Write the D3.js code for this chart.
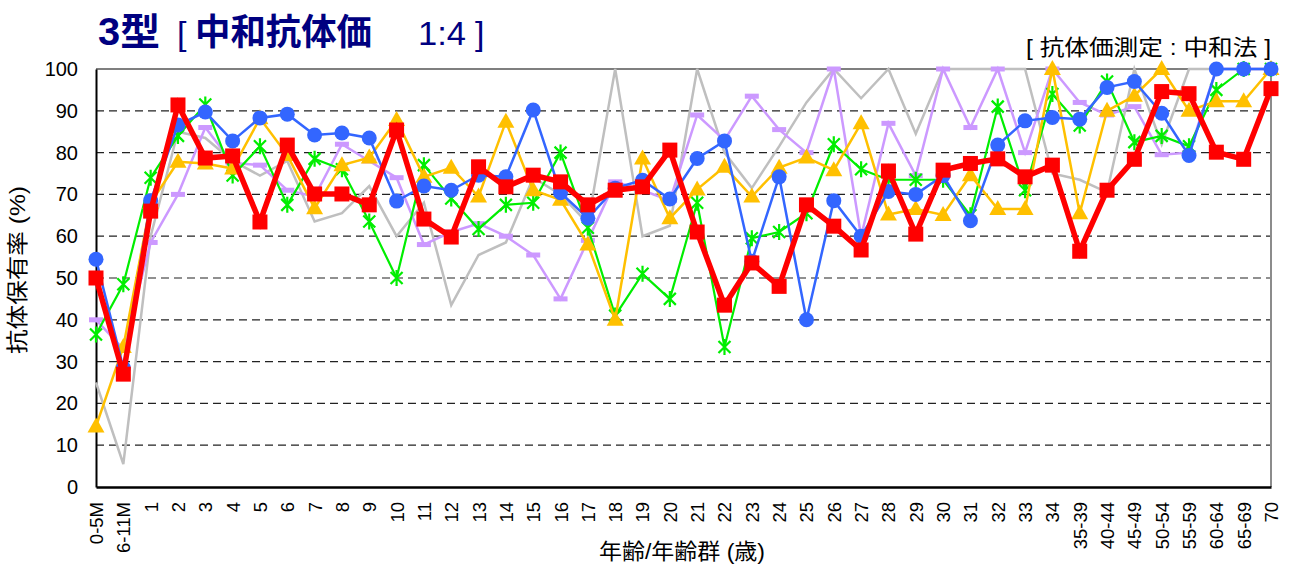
<!DOCTYPE html>
<html><head><meta charset="utf-8">
<script src="https://cdn.jsdelivr.net/npm/d3@7"></script>
<style>
body{margin:0;background:#fff;}
text{font-family:"Liberation Sans",Arial,"Noto Sans CJK JP",sans-serif;}
.cjk{font-family:"Liberation Sans","Noto Sans CJK JP",sans-serif;}
</style></head>
<body><svg id="c" width="1290" height="567"></svg>
<script>
const categories = ["0-5M","6-11M","1","2","3","4","5","6","7","8","9","10","11","12","13","14","15","16","17","18","19","20","21","22","23","24","25","26","27","28","29","30","31","32","33","34","35-39","40-44","45-49","50-54","55-59","60-64","65-69","70"];
const yTicks = [0,10,20,30,40,50,60,70,80,90,100];

const grayValues   = [25,5.5,60,85,83.5,78,74.5,78,63.5,65.5,72,60,68,43.5,55.5,58.5,74,70,63,100,60,62.5,100,80,71.5,81.5,92,100,93,100,84.5,100,100,100,100,75,73.5,70.5,100,82,100,100,100,100];
const purpleValues = [40,33,58.5,70,86,77.5,77,71,69.5,82,78,74,58,61,63,60,55.5,45,59,73,71,68.5,89,83,93.5,85.5,80,100,60,87,74.5,100,86,100,80,100,92,89,91,79.5,80,100,100,100];
const greenValues  = [36.5,48.5,74,84,91.5,74.5,81.5,67.5,78.5,76,63.5,50,77,69,61.7,67.5,68,80,62,41,51,45,68,33.5,59.5,61,65.5,82,76,73.5,73.5,73.5,65,91,71,94,86.5,97,82.5,84,81.5,95,100,100];
const yellowValues = [14.5,33.5,68,77.8,77.4,76.2,88.2,79.4,66.7,77,78.8,87.8,74.2,76.4,69.5,87.4,71,68.7,58,40,78.6,64.3,71.2,76.6,69.5,76.4,78.8,75.8,87,65.2,66.5,65.1,74.6,66.5,66.5,100,65.5,90,93.6,100,90,92.3,92.3,100];
const blueValues   = [54.5,28.5,68.5,86.6,89.7,82.8,88.3,89.2,84.2,84.7,83.5,68.4,72,71,74.6,74.2,90.2,70.4,64.3,71.5,73.4,68.9,78.6,82.8,54,74.2,40,68.5,60,70.7,70,74.5,63.7,81.8,87.6,88.4,88,95.6,97,89.4,79.3,100,100,100];
const redValues    = [50,27,66,91.4,78.7,79.2,63.4,81.8,70.1,70.1,67.5,85.4,64.1,59.8,76.6,71.8,74.6,73,67.5,71,71.8,80.6,61,43.5,53.6,48,67.5,62.4,56.7,75.6,60.5,75.8,77.4,78.5,74.2,77,56.4,71,78.4,94.6,94.1,80.1,78.4,95.3];

const svg = d3.select("#c");
const L=96, R=1271, T=69, B=487;
const x = d3.scalePoint().domain(categories).range([L,R]).padding(0);
const y = d3.scaleLinear().domain([0,100]).range([B,T]);

// gridlines
svg.append("g").selectAll("line").data(yTicks.filter(d=>d>0&&d<100)).join("line")
  .attr("x1",L).attr("x2",R).attr("y1",d=>y(d)).attr("y2",d=>y(d))
  .attr("stroke","#222").attr("stroke-width",1.2).attr("stroke-dasharray","8,5");
// frame top/right
svg.append("line").attr("x1",L).attr("x2",R).attr("y1",y(100)).attr("y2",y(100)).attr("stroke","#7f7f7f").attr("stroke-width",2);
svg.append("line").attr("x1",R).attr("x2",R).attr("y1",T).attr("y2",B).attr("stroke","#8c8c8c").attr("stroke-width",2);

// axes
const yAxis = svg.append("g").attr("transform",`translate(${L},0)`)
  .call(d3.axisLeft(y).tickValues(yTicks).tickSize(0).tickPadding(18));
yAxis.select(".domain").attr("stroke","#000").attr("stroke-width",2);
yAxis.selectAll("text").attr("font-size",20).attr("fill","#000");

const xAxis = svg.append("g").attr("transform",`translate(0,${B})`)
  .call(d3.axisBottom(x).tickSize(0));
xAxis.select(".domain").attr("stroke","#000").attr("stroke-width",2.5);
xAxis.selectAll("text").attr("font-size",18.5).attr("fill","#000")
  .attr("transform","rotate(-90)").attr("text-anchor","end")
  .attr("x",-15).attr("y",0).attr("dy","0.35em");

// series
const series = [
  {v:grayValues,   c:"#bfbfbf", w:2.5, m:"none"},
  {v:purpleValues, c:"#cc99ff", w:2.5, m:"dash"},
  {v:greenValues,  c:"#00ee00", w:2.2, m:"star"},
  {v:yellowValues, c:"#ffc000", w:2.5, m:"tri"},
  {v:blueValues,   c:"#3366ff", w:2.5, m:"circle"},
  {v:redValues,    c:"#ff0000", w:5.5, m:"square"}
];
const line = d3.line().x((d,i)=>x(categories[i])).y(d=>y(d));
series.forEach(s=>{
  const g = svg.append("g");
  g.append("path").datum(s.v).attr("d",line).attr("fill","none")
    .attr("stroke",s.c).attr("stroke-width",s.w).attr("stroke-linejoin","miter");
  const pts = g.selectAll("g.pt").data(s.v).join("g")
    .attr("transform",(d,i)=>`translate(${x(categories[i])},${y(d)})`);
  if(s.m==="circle") pts.append("circle").attr("r",7.5).attr("fill",s.c);
  if(s.m==="square") pts.append("rect").attr("x",-7.5).attr("y",-7.5).attr("width",15).attr("height",15).attr("fill",s.c);
  if(s.m==="tri") pts.append("path").attr("d","M0,-9 L8.5,6 L-8.5,6 Z").attr("fill",s.c);
  if(s.m==="dash") pts.append("rect").attr("x",-7).attr("y",-2.5).attr("width",14).attr("height",5).attr("fill",s.c);
  if(s.m==="star") pts.append("path").attr("d","M-6,-6 L6,6 M-6,6 L6,-6 M0,-8 L0,8").attr("stroke",s.c).attr("stroke-width",2.2);
});

// titles
const navy = "#000080";
svg.append("text").attr("class","cjk").attr("x",98).attr("y",45).attr("fill",navy)
  .attr("font-size",38).attr("font-weight","bold").attr("textLength",62).attr("lengthAdjust","spacingAndGlyphs").text("3型");
svg.append("text").attr("class","cjk").attr("x",177).attr("y",45).attr("fill",navy)
  .attr("font-size",34).text("[");
svg.append("text").attr("class","cjk").attr("x",195).attr("y",45).attr("fill",navy)
  .attr("font-size",36).attr("font-weight","bold").attr("textLength",177).attr("lengthAdjust","spacingAndGlyphs").text("中和抗体価");
svg.append("text").attr("class","cjk").attr("x",418).attr("y",45).attr("fill",navy)
  .attr("font-size",33).attr("textLength",48).attr("lengthAdjust","spacingAndGlyphs").text("1:4");
svg.append("text").attr("class","cjk").attr("x",475).attr("y",45).attr("fill",navy)
  .attr("font-size",34).text("]");

svg.append("text").attr("class","cjk").attr("x",1271).attr("y",55).attr("text-anchor","end")
  .attr("font-size",22).attr("fill","#000").attr("textLength",245).attr("lengthAdjust","spacingAndGlyphs")
  .text("[ 抗体価測定 : 中和法 ]");

svg.append("text").attr("class","cjk").attr("transform","translate(25,270) rotate(-90)")
  .attr("text-anchor","middle").attr("font-size",22).attr("fill","#000")
  .attr("textLength",168).attr("lengthAdjust","spacingAndGlyphs").text("抗体保有率 (%)");

svg.append("text").attr("class","cjk").attr("x",682).attr("y",559).attr("text-anchor","middle")
  .attr("font-size",22).attr("fill","#000")
  .attr("textLength",166).attr("lengthAdjust","spacingAndGlyphs").text("年齢/年齢群 (歳)");
</script></body></html>
